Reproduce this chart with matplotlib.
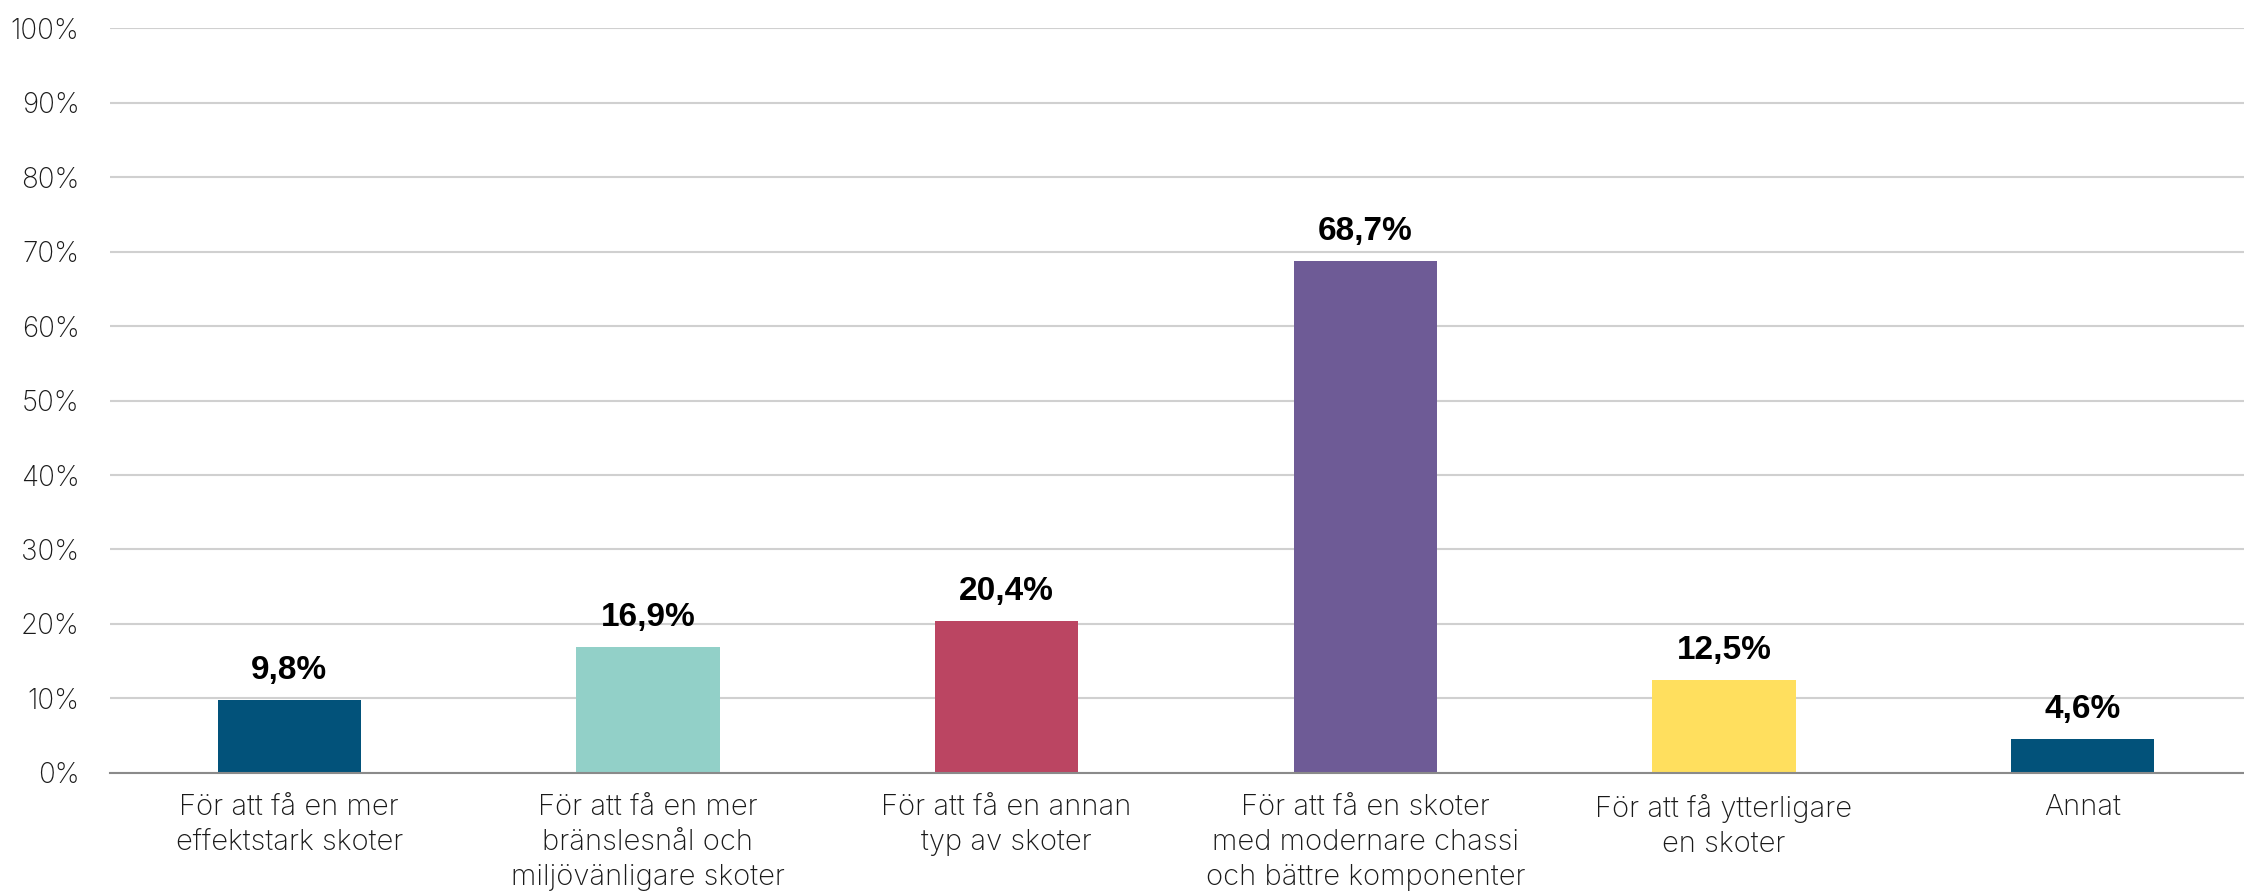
import matplotlib
matplotlib.use("Agg")
import matplotlib.pyplot as plt
from matplotlib.ticker import FuncFormatter

categories = [
    "För att få en mer\neffektstark skoter",
    "För att få en mer\nbränslesnål och\nmiljövänligare skoter",
    "För att få en annan\ntyp av skoter",
    "För att få en skoter\nmed modernare chassi\noch bättre komponenter",
    "För att få ytterligare\nen skoter",
    "Annat",
]
values = [9.8, 16.9, 20.4, 68.7, 12.5, 4.6]
colors = ["#02527A", "#92D0C8", "#BB4562", "#6E5B96", "#FFDF5E", "#02527A"]
yticks = list(range(0, 101, 10))

plt.rcParams['font.family'] = ['Inter', 'DejaVu Sans']

fig = plt.figure(figsize=(22.44, 8.93), dpi=100)
ax = fig.add_axes([0.049, 0.1344, 0.951, 0.8342])

x = range(len(categories))
bars = ax.bar(x, values, width=0.4, color=colors, zorder=3)

# value labels above bars
labels = [f"{v:.1f}%".replace(".", ",") for v in values]
ax.bar_label(bars, labels=labels, padding=10, fontsize=24,
             fontweight='bold', color='black', family='Liberation Sans')

ax.set_xlim(-0.5, 5.45)
ax.set_ylim(0, 100)
ax.set_yticks(yticks)
ax.yaxis.set_major_formatter(FuncFormatter(lambda v, _: f"{v:.0f}%"))
ax.set_xticks(list(x))
ax.set_xticklabels(categories, fontsize=21, fontweight='light',
                   color='#1a1a1a', linespacing=1.38)

ax.grid(axis='y', color='#d0d0d0', linewidth=1.5, zorder=0)
for s in ['top', 'right', 'left']:
    ax.spines[s].set_visible(False)
ax.spines['bottom'].set_color('#8a8a8a')
ax.spines['bottom'].set_linewidth(1.5)
ax.spines['bottom'].set_zorder(4)

ax.tick_params(axis='y', length=0, pad=22, labelsize=20, labelcolor='#1a1a1a')
ax.tick_params(axis='x', length=0, pad=15)
for t in ax.get_yticklabels():
    t.set_fontweight('light')

fig.savefig("out.png", dpi=100)
